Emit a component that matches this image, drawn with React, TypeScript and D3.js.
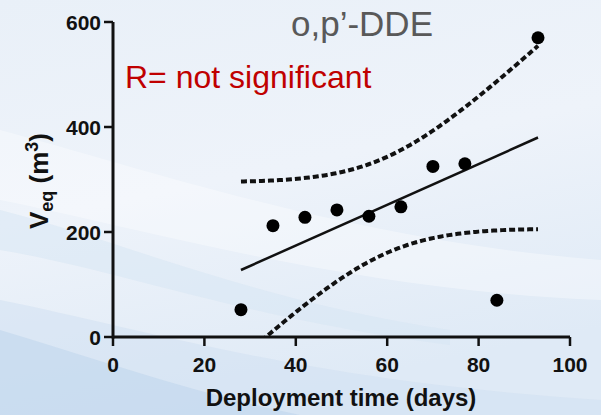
import React from "react";
import * as d3 from "d3";

const days = [28, 35, 42, 49, 56, 63, 70, 77, 84, 93];
const veq = [52, 212, 228, 242, 230, 248, 325, 330, 70, 570];
const xTicks = [0, 20, 40, 60, 80, 100];
const yTicks = [0, 200, 400, 600];
const title = "o,p\u2019-DDE";
const note = "R= not significant";

const W = 601, H = 415;
const x = d3.scaleLinear().domain([0, 100]).range([113, 570]);
const y = d3.scaleLinear().domain([0, 600]).range([337, 22]);

function regression() {
  const n = days.length;
  const mx = d3.mean(days)!;
  const my = d3.mean(veq)!;
  let sxy = 0, sxx = 0;
  days.forEach((d, i) => { sxy += (d - mx) * (veq[i] - my); sxx += (d - mx) ** 2; });
  const b = sxy / sxx;
  const a = my - b * mx;
  let ssr = 0;
  days.forEach((d, i) => { ssr += (veq[i] - (a + b * d)) ** 2; });
  const s = Math.sqrt(ssr / (n - 2));
  const t = 2.306;
  const x0 = d3.min(days)!, x1 = d3.max(days)!;
  const pts = d3.range(0, 101).map((k) => x0 + (x1 - x0) * k / 100);
  const band = pts.map((xv) => {
    const fit = a + b * xv;
    const se = s * Math.sqrt(1 / n + (xv - mx) ** 2 / sxx);
    return { xv, fit, lo: fit - t * se, hi: fit + t * se };
  });
  return { a, b, x0, x1, band };
}

export default function App() {
  const r = regression();
  const line = d3.line<[number, number]>().x((d) => x(d[0])).y((d) => y(d[1]));
  const hiPath = line(r.band.map((p) => [p.xv, p.hi]))!;
  const loPath = line(r.band.map((p) => [p.xv, p.lo]))!;
  const fitPath = line([[r.x0, r.a + r.b * r.x0], [r.x1, r.a + r.b * r.x1]])!;
  const font = "'Liberation Sans', Arial, Helvetica, sans-serif";
  return (
    <svg width={W} height={H} style={{ position: "absolute", left: 0, top: 0 }} fontFamily={font}>
      <defs>
        <linearGradient id="bg" x1="0" y1="0" x2="0.3" y2="1">
          <stop offset="0" stopColor="#e9f0f8" />
          <stop offset="0.5" stopColor="#eef3fa" />
          <stop offset="1" stopColor="#dfeaf6" />
        </linearGradient>
        <clipPath id="plot">
          <rect x={113} y={0} width={480} height={337} />
        </clipPath>
      </defs>
      <rect width={W} height={H} fill="url(#bg)" />
      <path d="M0,130 C150,170 350,240 601,260 L601,300 C350,290 150,230 0,200 Z" fill="#ffffff" opacity={0.35} />
      <path d="M0,300 C150,330 300,380 601,400 L601,415 L0,415 Z" fill="#cfe0f1" opacity={0.5} />
      <path d="M0,210 C120,240 250,300 450,330 L450,345 C250,320 120,270 0,250 Z" fill="#d6e5f3" opacity={0.5} />
      <path d="M0,330 C100,360 200,395 300,415 L0,415 Z" fill="#bcd4ec" opacity={0.5} />

      <text x={291} y={36} fontSize={35} fill="#595959">{title}</text>
      <text x={125} y={88} fontSize={32} fill="#c00000">{note}</text>

      {/* axes */}
      <line x1={x(0)} x2={x(100)} y1={y(0)} y2={y(0)} stroke="#111" strokeWidth={3} />
      <line x1={x(0)} x2={x(0)} y1={y(0) + 1.5} y2={y(600)} stroke="#111" strokeWidth={3} />
      {xTicks.map((t) => (
        <g key={"x" + t}>
          <line x1={x(t)} x2={x(t)} y1={y(0)} y2={y(0) + 9} stroke="#111" strokeWidth={2.5} />
          <text x={x(t)} y={372} fontSize={21} fontWeight="bold" textAnchor="middle" fill="#111">{t}</text>
        </g>
      ))}
      {yTicks.map((t) => (
        <g key={"y" + t}>
          <line x1={x(0) - 9} x2={x(0)} y1={y(t)} y2={y(t)} stroke="#111" strokeWidth={2.5} />
          <text x={x(0) - 12} y={y(t) + 7.5} fontSize={21} fontWeight="bold" textAnchor="end" fill="#111">{t}</text>
        </g>
      ))}
      <text x={341} y={406} fontSize={24} fontWeight="bold" textAnchor="middle" fill="#111">Deployment time (days)</text>
      <text transform="translate(48,181) rotate(-90)" fontSize={26} fontWeight="bold" textAnchor="middle" fill="#111">
        V<tspan fontSize={18} dy={5}>eq</tspan><tspan dy={-5}> (m</tspan><tspan fontSize={18} dy={-10}>3</tspan><tspan dy={10}>)</tspan>
      </text>

      <g clipPath="url(#plot)">
        <path d={hiPath} fill="none" stroke="#111" strokeWidth={4} strokeDasharray="6 3" />
        <path d={loPath} fill="none" stroke="#111" strokeWidth={4} strokeDasharray="6 3" />
      </g>
      <path d={fitPath} fill="none" stroke="#111" strokeWidth={2.5} />
      {days.map((d, i) => (
        <circle key={i} cx={x(d)} cy={y(veq[i])} r={6.5} fill="#000" />
      ))}
    </svg>
  );
}
